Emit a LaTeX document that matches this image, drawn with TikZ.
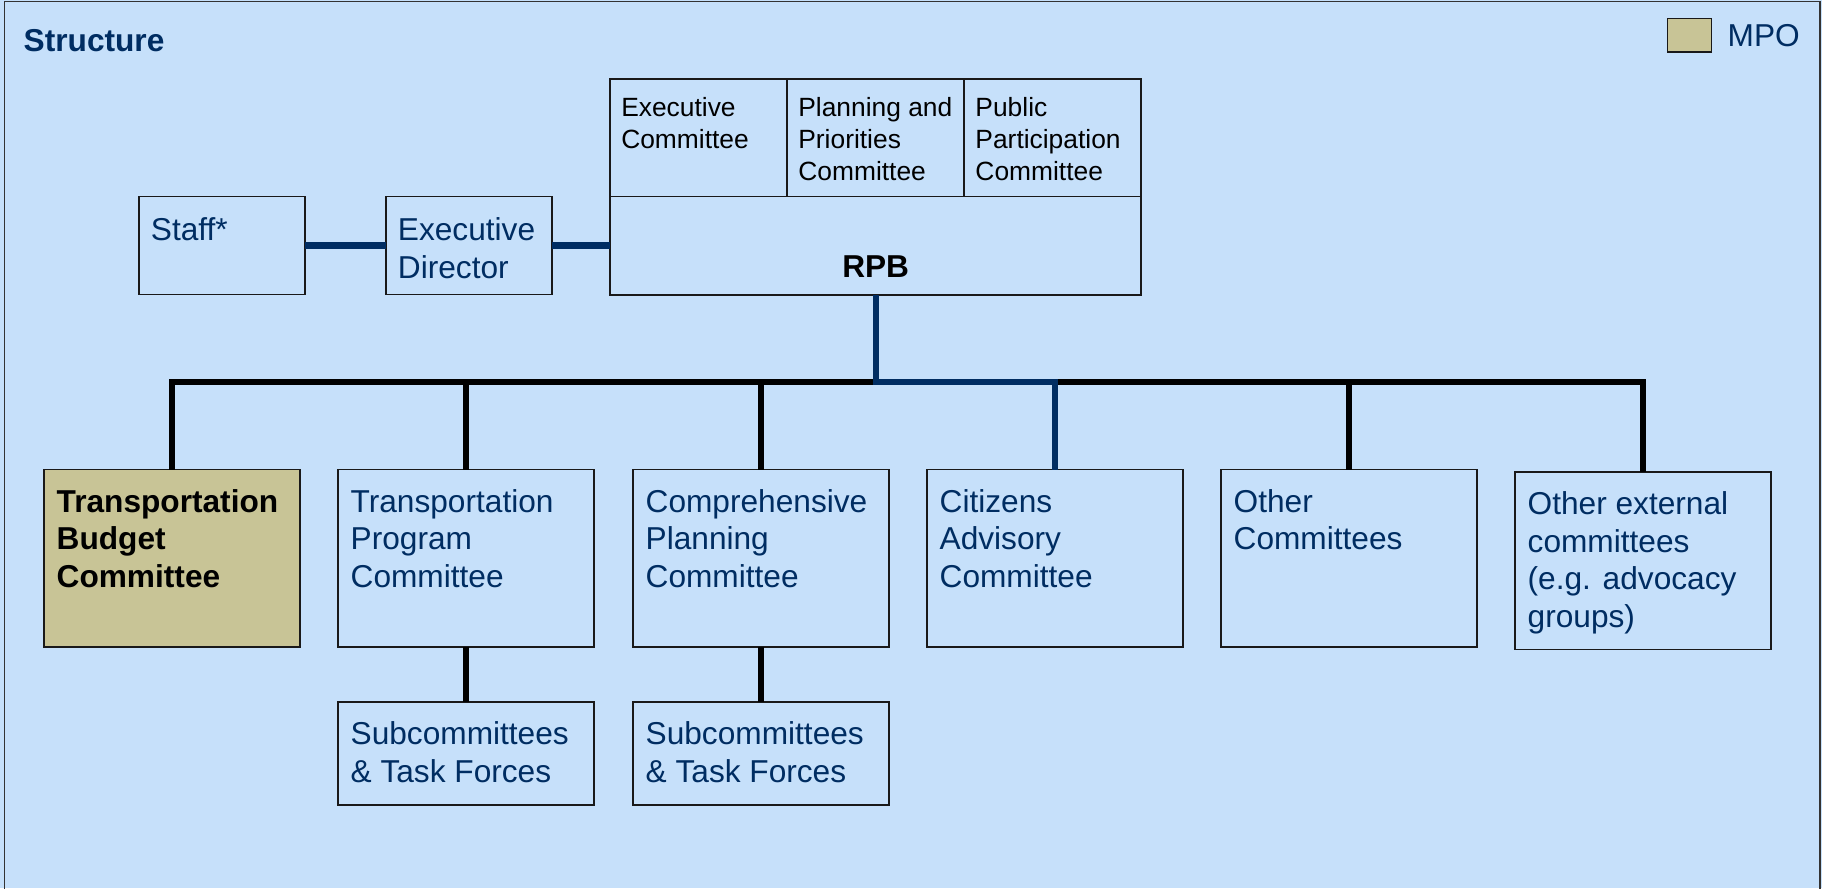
\documentclass[tikz,border=0pt]{standalone}
\usepackage{fontspec}
\setmainfont{Liberation Sans}
\definecolor{bgblue}{RGB}{198,224,250}
\definecolor{navy}{RGB}{0,45,98}
\definecolor{mpokhaki}{RGB}{200,196,150}

\begin{document}
\begin{tikzpicture}[x=0.01cm, y=-0.01cm,
    orgbox/.style={draw=black!90, line width=0.5pt, fill=bgblue, anchor=north west, inner sep=0pt, outer sep=0pt},
    cmtbox/.style={orgbox, minimum width=2.56cm, minimum height=1.775cm},
    subbox/.style={orgbox, minimum width=2.56cm, minimum height=1.03cm},
    staffbox/.style={orgbox, minimum width=1.66cm, minimum height=0.98cm},
    rpbpart/.style={orgbox, minimum width=1.77cm, minimum height=1.174cm},
    txtbase/.style={anchor=north west, inner sep=0pt, align=left, text=navy, font=\fontsize{9}{10.7}\selectfont},
    txt/.style={txtbase, xshift=3.4pt, yshift=-5.4pt},
    stafftxt/.style={txtbase, xshift=3.2pt, yshift=-5.8pt},
    parttxt/.style={txtbase, text=black, xshift=3pt, yshift=-5pt, font=\fontsize{7.5}{9.1}\selectfont},
    rpbtxt/.style={anchor=base, inner sep=0pt, yshift=5pt, font=\bfseries\fontsize{9}{10.7}\selectfont},
    legendtxt/.style={anchor=west, inner sep=0pt, xshift=4.4pt, text=navy, font=\fontsize{9}{10.7}\selectfont},
    bus/.style={line width=1.7pt, black},
    mainline/.style={line width=1.8pt, navy}
]
\useasboundingbox (0,0) rectangle (1822,888);

% Panel
\fill[bgblue] (0,0) rectangle (1822,888);
\draw[black!80, line width=0.5pt] (4.5,900) -- (4.5,1.5) -- (1820,1.5) -- (1820,900);

% Title and legend
\node[anchor=west, inner sep=0pt, text=navy, font=\bfseries\fontsize{9}{10.7}\selectfont] (title) at (23,41) {Structure};
\node[orgbox, fill=mpokhaki, minimum width=0.44cm, minimum height=0.337cm,
      label={[legendtxt]east:MPO}] (mpo) at (1667.5,18.6) {};

% Staff and director
\node[staffbox, label={[stafftxt]north west:Staff*}] (staff) at (139,196.4) {};
\node[staffbox, label={[stafftxt]north west:{Executive\\Director}}] (director) at (386,196.4) {};

% RPB with its committees
\node[orgbox, minimum width=5.31cm, minimum height=2.16cm, label={[rpbtxt]south:RPB}] (rpb) at (610,79) {};
\node[rpbpart, label={[parttxt]north west:{Executive\\Committee}}] (execcmt) at (610,79) {};
\node[rpbpart, label={[parttxt]north west:{Planning and\\Priorities\\Committee}}] (plancmt) at (execcmt.north east) {};
\node[rpbpart, label={[parttxt]north west:{Public\\Participation\\Committee}}] (publiccmt) at (plancmt.north east) {};

% Committees
\node[cmtbox, fill=mpokhaki, label={[txt, text=black, font=\bfseries\fontsize{9}{10.7}\selectfont]north west:{Transportation\\Budget\\Committee}}] (tbc) at (44,469.5) {};
\node[cmtbox, label={[txt]north west:{Transportation\\Program\\Committee}}] (tpc) at (338,469.5) {};
\node[cmtbox, label={[txt]north west:{Comprehensive\\Planning\\Committee}}] (cpc) at (633,469.5) {};
\node[cmtbox, label={[txt]north west:{Citizens\\Advisory\\Committee}}] (cac) at (927,469.5) {};
\node[cmtbox, label={[txt]north west:{Other\\Committees}}] (other) at (1221,469.5) {};
\node[cmtbox, label={[txt]north west:{Other external\\committees\\(e.g. advocacy\\groups)}}] (ext) at (1515,472) {};

% Subcommittees
\node[subbox, label={[txt]north west:{Subcommittees\\\& Task Forces}}] (tpcsub) at (338,702) {};
\node[subbox, label={[txt]north west:{Subcommittees\\\& Task Forces}}] (cpcsub) at (633,702) {};

% Connectors
\coordinate (bus) at (0,382);
\draw[mainline] (staff) -- (director);
\draw[mainline] (director.east) -- (director.east -| rpb.west);
\draw[bus] (tbc.north) -- (tbc.north |- bus) -| (ext.north);
\foreach \n in {tpc, cpc, other}
  \draw[bus] (\n.north) -- (\n.north |- bus);
\draw[mainline] (rpb.south) -- (rpb.south |- bus) -| (cac.north);
\draw[bus] (tpc) -- (tpcsub);
\draw[bus] (cpc) -- (cpcsub);

\end{tikzpicture}
\end{document}
